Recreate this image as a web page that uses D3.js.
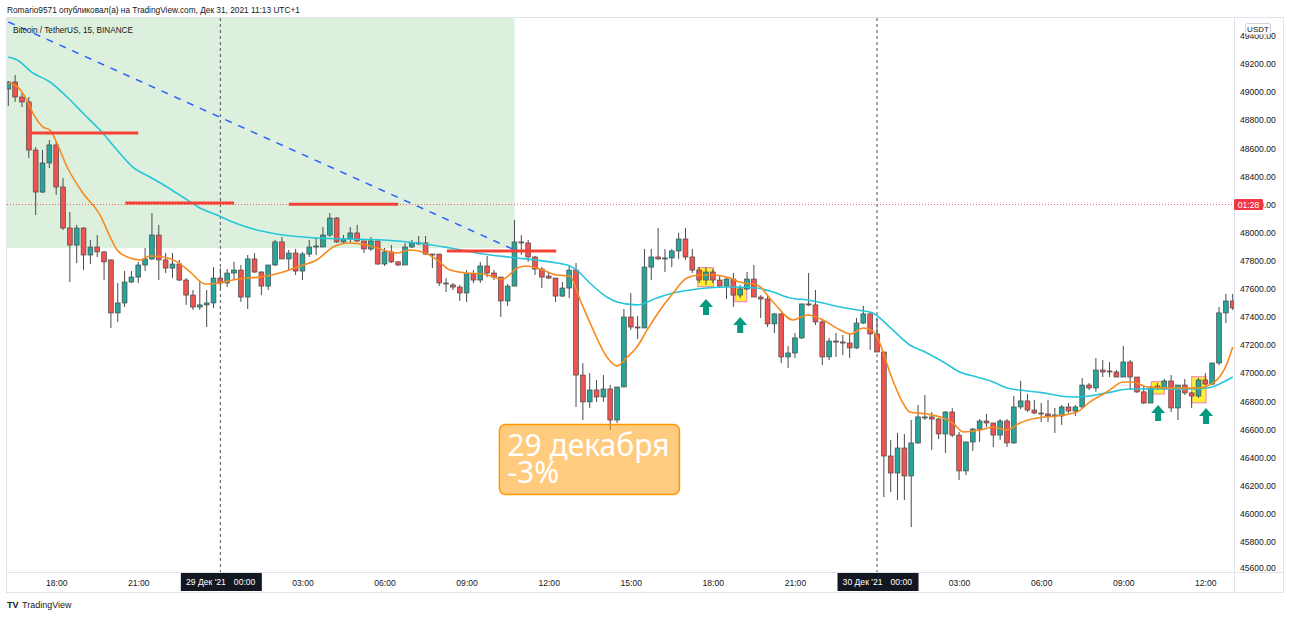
<!DOCTYPE html>
<html>
<head>
<meta charset="utf-8">
<script src="https://cdn.jsdelivr.net/npm/d3@7"></script>
<style>
  body { margin: 0; background: #fff; }
  svg { display: block; font-family: "Liberation Sans", Arial, sans-serif; }
</style>
</head>
<body>
<svg id="chart" width="1290" height="617"></svg>
<script>
// 15 minute bars, BTC/USDT, first bar 28 Dec 16:15
const startTime = Date.UTC(2021, 11, 28, 16, 15);
const barMs = 15 * 60 * 1000;

// [open, high, low, close]
const candles = [
  [49022,49079,48901,49072],[49072,49122,48930,48965],[48965,48994,48894,48930],[48930,48965,48531,48588],
  [48588,48610,48126,48289],[48289,48588,48282,48496],[48496,48659,48460,48624],[48624,48645,48268,48325],
  [48325,48389,48019,48033],[48033,48147,47649,47912],[47912,48055,47784,48033],[48033,48040,47734,47841],
  [47841,47948,47777,47898],[47898,47983,47827,47863],[47863,47870,47663,47792],[47806,47810,47322,47429],
  [47429,47642,47365,47500],[47500,47727,47471,47649],[47649,47727,47642,47684],[47684,47792,47642,47770],
  [47770,47891,47727,47813],[47813,48140,47806,47983],[47983,48055,47663,47806],[47806,47855,47713,47748],
  [47748,47855,47677,47777],[47777,47806,47656,47663],[47663,47677,47486,47556],[47556,47592,47450,47471],
  [47471,47649,47450,47486],[47486,47592,47329,47500],[47500,47755,47464,47677],[47677,47748,47606,47642],
  [47642,47741,47613,47713],[47713,47792,47663,47734],[47734,47770,47507,47542],[47542,47841,47457,47813],
  [47813,47855,47713,47720],[47720,47727,47556,47620],[47620,47770,47592,47770],[47770,47948,47763,47934],
  [47934,47969,47813,47813],[47813,47877,47727,47855],[47855,47884,47699,47727],[47727,47863,47663,47848],
  [47848,47948,47827,47898],[47898,47962,47841,47905],[47898,48040,47898,47983],[47983,48140,47969,48104],
  [48104,48111,47927,47934],[47934,47983,47927,47955],[47955,48040,47927,47998],[47998,48055,47934,47941],
  [47941,47941,47855,47884],[47884,47969,47870,47941],[47941,47941,47770,47777],[47777,47891,47763,47863],
  [47863,47912,47784,47792],[47792,47799,47763,47770],[47770,47927,47770,47898],[47898,47948,47891,47927],
  [47920,47976,47912,47927],[47927,47976,47841,47848],[47848,47848,47748,47841],[47848,47848,47620,47642],
  [47642,47677,47578,47635],[47628,47642,47592,47613],[47613,47628,47514,47571],[47571,47734,47507,47706],
  [47706,47734,47642,47663],[47663,47792,47642,47763],[47763,47834,47684,47713],[47713,47734,47663,47684],
  [47684,47684,47400,47514],[47514,47635,47479,47620],[47620,48090,47620,47934],[47934,47983,47841,47927],
  [47927,47948,47792,47827],[47827,47834,47699,47741],[47741,47755,47606,47684],[47691,47720,47670,47677],
  [47677,47677,47507,47549],[47549,47649,47542,47606],[47606,47770,47535,47734],[47734,47784,46760,46987],
  [46987,47072,46667,46796],[46796,47001,46753,46881],[46881,46952,46796,46831],[46831,46987,46796,46888],
  [46888,46916,46596,46667],[46667,46902,46646,46902],[46902,47457,46902,47400],[47400,47570,47308,47329],
  [47329,47407,47243,47322],[47322,47884,47322,47755],[47755,47884,47663,47827],[47827,48033,47806,47813],
  [47813,47884,47720,47820],[47820,47884,47755,47870],[47870,47998,47813,47955],[47955,48033,47806,47827],
  [47827,47884,47713,47734],[47734,47755,47642,47663],[47663,47755,47628,47720],[47720,47741,47642,47663],
  [47663,47691,47613,47620],[47620,47684,47528,47670],[47670,47713,47471,47556],[47556,47628,47535,47599],
  [47599,47720,47592,47670],[47670,47770,47542,47542],[47542,47556,47393,47528],[47528,47549,47329,47351],
  [47351,47429,47286,47422],[47422,47429,47073,47116],[47116,47194,47037,47144],[47144,47286,47108,47251],
  [47251,47493,47243,47493],[47493,47713,47478,47486],[47486,47592,47343,47365],[47365,47379,47058,47116],
  [47116,47251,47094,47229],[47229,47286,47116,47222],[47222,47272,47130,47215],[47215,47286,47108,47180],
  [47180,47393,47172,47357],[47357,47479,47350,47422],[47422,47436,47165,47279],[47279,47393,47151,47151],
  [47151,47151,46119,46411],[46411,46525,46155,46290],[46290,46575,46098,46468],[46468,46567,46098,46269],
  [46269,46667,45906,46504],[46504,46774,46497,46689],[46682,46845,46667,46689],[46689,46724,46454,46674],
  [46674,46682,46532,46568],[46568,46731,46433,46724],[46724,46752,46546,46560],[46560,46582,46240,46305],
  [46305,46511,46276,46511],[46511,46610,46447,46603],[46603,46674,46511,46660],[46660,46710,46617,46646],
  [46646,46646,46475,46560],[46560,46674,46525,46660],[46660,46674,46475,46504],[46504,46838,46497,46760],
  [46760,46945,46745,46803],[46803,46852,46724,46738],[46738,46810,46710,46717],[46717,46789,46653,46710],
  [46710,46810,46653,46696],[46696,46753,46575,46703],[46696,46774,46632,46760],[46760,46788,46717,46731],
  [46731,46774,46696,46760],[46760,46966,46753,46916],[46916,46930,46881,46895],[46895,47108,46867,47023],
  [47023,47094,46973,47009],[47016,47080,46973,47009],[47009,47023,46973,46973],[46973,47194,46973,47080],
  [47080,47094,46881,46973],[46973,46973,46860,46867],[46867,46909,46781,46788],[46788,46909,46788,46895],
  [46909,46930,46881,46895],[46895,46959,46881,46945],[46945,46987,46724,46753],[46753,46916,46667,46916],
  [46916,46959,46845,46860],[46860,46867,46753,46838],[46838,46966,46824,46952],[46952,47001,46916,46923],
  [46923,47073,46916,47073],[47073,47471,47058,47429],[47429,47564,47357,47514],[47514,47564,47450,47464]
];

// moving averages: [bar, price]
const fastMa = [[0,49065],[1.4,49036],[2.7,48944],[3.6,48851],[5.1,48751],[6.1,48730],[7.1,48638],[8.6,48467],
  [10.9,48282],[13.4,48126],[14.9,47969],[15.9,47877],[17.4,47827],[19.3,47806],[20.7,47834],[22.6,47827],
  [24.7,47792],[26.6,47720],[28.8,47635],[30.9,47642],[32.8,47663],[34.9,47677],[36.8,47684],[40.2,47720],
  [42.6,47763],[45.1,47806],[47.5,47898],[49.9,47927],[52.4,47912],[54.8,47877],[56.8,47855],[58.7,47877],
  [60.6,47863],[62.7,47806],[64.6,47734],[67.1,47713],[69.4,47706],[72.3,47670],[74.4,47748],[75.8,47763],
  [77.7,47741],[80.2,47699],[82.1,47691],[83.6,47521],[85.5,47308],[87.5,47116],[89,47052],[90.5,47116],
  [91.9,47186],[93.4,47308],[95.3,47450],[97.2,47571],[99.2,47677],[101.1,47699],[103,47699],[105.5,47677],
  [106.9,47649],[109.5,47628],[111.8,47507],[114.7,47379],[116.8,47414],[119.1,47379],[121.6,47308],
  [123.1,47279],[125,47322],[126.4,47300],[127.4,47215],[128.9,47002],[130.8,46788],[131.8,46724],
  [134.3,46710],[136.7,46681],[138.1,46646],[139.6,46582],[142.1,46596],[144,46617],[146,46596],
  [147.9,46646],[150.4,46681],[153.3,46696],[156.2,46724],[158.1,46795],[160.6,46866],[163,46938],
  [164.4,46938],[166.5,46902],[170.3,46895],[173.8,46895],[176.1,46930],[178.2,47072],[179,47186]];

const slowMa = [[0,49250],[1.3,49229],[3.6,49136],[6.1,49072],[8.6,48965],[10.9,48851],[13.4,48730],
  [15.9,48588],[18.2,48467],[20.7,48396],[23.2,48325],[25.5,48254],[28,48176],[30.5,48126],[32.8,48076],
  [35.3,48033],[40.2,47983],[45.1,47962],[49.9,47955],[54.8,47948],[59.8,47927],[64.6,47891],[69.4,47848],
  [74.4,47820],[79.2,47792],[82.1,47763],[83.1,47734],[85,47642],[87.5,47542],[89,47507],[91.9,47486],
  [94.8,47535],[97.2,47571],[99.7,47592],[102.1,47606],[105.5,47613],[109.5,47606],[111.8,47578],
  [114.3,47535],[116.8,47521],[119.1,47500],[121.6,47471],[124.1,47450],[126.4,47429],[127.4,47393],
  [129.3,47308],[131.8,47201],[134.3,47144],[136.7,47080],[139.1,47009],[141.6,46973],[144,46938],
  [146,46895],[148.9,46874],[151.3,46860],[153.8,46838],[155.7,46831],[158.1,46838],[160.6,46860],
  [164,46888],[167.9,46888],[172.8,46888],[175.3,46895],[176.7,46916],[179,46973]];

// drawings
const zone = [-1, 74, 47891, 49600];                 // green box: fromBar, toBar, low, high
const trend = [[0, 49500], [74, 47877]];             // blue dashed trend line
const levels = [[3.2, 19, 48709], [17.1, 33, 48211], [41, 57, 48202], [64.1, 80.1, 47870]];
const highlights = [[100.8, 103.1, 47751, 47616], [106.2, 107.95, 47606, 47509],
                    [167.1, 169, 46940, 46852], [173, 175.1, 46975, 46790]];
const arrows = [[102, 47528], [107, 47400], [168.1, 46774], [175.1, 46753]];
const priceLine = 48200;
const countdown = '01:28';
const note = { bar: 71.8, price: 46635, lines: ['29 декабря', '-3%'] };

const priceTicks = d3.range(45600, 49401, 200);
const timeTicks = ['2021-12-28T18:00','2021-12-28T21:00','2021-12-29T00:00','2021-12-29T03:00',
  '2021-12-29T06:00','2021-12-29T09:00','2021-12-29T12:00','2021-12-29T15:00','2021-12-29T18:00',
  '2021-12-29T21:00','2021-12-30T00:00','2021-12-30T03:00','2021-12-30T06:00','2021-12-30T09:00',
  '2021-12-30T12:00'];
const monthLabel = 'Дек';

const barTime = i => new Date(startTime + i * barMs);
const parseT = d3.utcParse('%Y-%m-%dT%H:%M');

const plot = { left: 7, top: 18, right: 1234, bottom: 572 };
const svg = d3.select('#chart');

const x = d3.scaleUtc()
  .domain([barTime(0), barTime(candles.length - 1)])
  .range([8.3, 1232.7]);
const xb = i => x(barTime(i));
const y = d3.scaleLinear().domain([45600, 49200]).range([570, 64]);

svg.append('rect').attr('width', 1290).attr('height', 617).attr('fill', '#fff');

svg.append('defs').append('clipPath').attr('id', 'plotClip')
  .append('rect')
  .attr('x', plot.left).attr('y', plot.top)
  .attr('width', plot.right - plot.left).attr('height', plot.bottom - plot.top);

const g = svg.append('g').attr('clip-path', 'url(#plotClip)');

// green zone
g.append('rect')
  .attr('x', xb(zone[0])).attr('y', y(zone[3]))
  .attr('width', xb(zone[1]) - xb(zone[0]))
  .attr('height', y(zone[2]) - y(zone[3]))
  .attr('fill', 'rgba(76,175,80,0.19)');

// yellow highlight boxes
g.selectAll('.hl').data(highlights).join('rect')
  .attr('class', 'hl')
  .attr('x', d => xb(d[0])).attr('y', d => y(d[2]))
  .attr('width', d => xb(d[1]) - xb(d[0]))
  .attr('height', d => y(d[3]) - y(d[2]))
  .attr('fill', '#fff033')
  .attr('stroke', '#f48fb1').attr('stroke-width', 1.2);

// day separators
timeTicks.map(parseT).filter(t => t.getUTCHours() === 0).forEach(t => {
  g.append('line')
    .attr('x1', x(t)).attr('x2', x(t))
    .attr('y1', plot.top).attr('y2', plot.bottom)
    .attr('stroke', '#50535e').attr('stroke-width', 1)
    .attr('stroke-dasharray', '3,3');
});

// candles
const bars = g.selectAll('.candle').data(candles).join('g').attr('class', 'candle');
bars.append('line')
  .attr('x1', (d, i) => xb(i)).attr('x2', (d, i) => xb(i))
  .attr('y1', d => y(d[1])).attr('y2', d => y(d[2]))
  .attr('stroke', '#4a4a4a').attr('stroke-width', 1);
bars.append('rect')
  .attr('x', (d, i) => xb(i) - 2.4)
  .attr('width', 4.8)
  .attr('y', d => y(Math.max(d[0], d[3])))
  .attr('height', d => Math.max(1, Math.abs(y(d[0]) - y(d[3]))))
  .attr('fill', d => d[3] >= d[0] ? '#26a69a' : '#ef5350')
  .attr('stroke', '#4a4a4a').attr('stroke-width', 0.7);

// moving averages
const maLine = d3.line().x(d => xb(d[0])).y(d => y(d[1])).curve(d3.curveMonotoneX);
g.append('path').attr('d', maLine(slowMa))
  .attr('fill', 'none').attr('stroke', '#26c6da').attr('stroke-width', 1.6);
g.append('path').attr('d', maLine(fastMa))
  .attr('fill', 'none').attr('stroke', '#f68a1e').attr('stroke-width', 1.6);

// price line
g.append('line')
  .attr('x1', plot.left).attr('x2', plot.right)
  .attr('y1', y(priceLine)).attr('y2', y(priceLine))
  .attr('stroke', '#f23645').attr('stroke-width', 1)
  .attr('stroke-dasharray', '1,2').attr('opacity', 0.8);

// trend line
g.append('line')
  .attr('x1', xb(trend[0][0])).attr('y1', y(trend[0][1]))
  .attr('x2', xb(trend[1][0])).attr('y2', y(trend[1][1]))
  .attr('stroke', '#2962ff').attr('stroke-width', 1.5)
  .attr('stroke-dasharray', '7,7');

// red levels
g.selectAll('.lvl').data(levels).join('line')
  .attr('class', 'lvl')
  .attr('x1', d => xb(d[0])).attr('x2', d => xb(d[1]))
  .attr('y1', d => y(d[2])).attr('y2', d => y(d[2]))
  .attr('stroke', '#f44336').attr('stroke-width', 3);

// arrows
g.selectAll('.arrow').data(arrows).join('path')
  .attr('class', 'arrow')
  .attr('transform', d => `translate(${xb(d[0])},${y(d[1])})`)
  .attr('d', 'M0,0 L7,8 L3,8 L3,16 L-3,16 L-3,8 L-7,8 Z')
  .attr('fill', '#089981');

// note box
const nx = xb(note.bar), ny = y(note.price);
g.append('rect')
  .attr('x', nx).attr('y', ny).attr('width', 180).attr('height', 70).attr('rx', 6)
  .attr('fill', 'rgba(255,152,0,0.5)')
  .attr('stroke', '#ff9800').attr('stroke-width', 1.5);
g.append('text')
  .attr('x', nx + 8).attr('y', ny + 31)
  .attr('fill', '#fff')
  .attr('font-family', '"Noto Sans", sans-serif')
  .attr('font-size', 30)
  .selectAll('tspan').data(note.lines).join('tspan')
  .attr('x', nx + 8).attr('dy', (d, i) => i ? 27 : 0)
  .text(d => d);

// frame
const frame = svg.append('g').attr('stroke', '#e0e3eb').attr('fill', 'none');
frame.append('rect').attr('x', 6.5).attr('y', 17.5).attr('width', 1277).attr('height', 575);
frame.append('line').attr('x1', 1234.5).attr('x2', 1234.5).attr('y1', 17.5).attr('y2', 592.5);
frame.append('line').attr('x1', 6.5).attr('x2', 1283.5).attr('y1', 572.5).attr('y2', 572.5);

// price axis
const yAxis = svg.append('g')
  .attr('transform', `translate(${plot.right}, 0)`)
  .call(d3.axisRight(y).tickValues(priceTicks).tickFormat(d => d.toFixed(2)).tickSize(0).tickPadding(6));
yAxis.select('.domain').remove();
yAxis.selectAll('text')
  .attr('fill', '#131722')
  .attr('font-size', 8.6)
  .attr('font-family', '"Liberation Sans", Arial, sans-serif');
yAxis.selectAll('.tick').filter(d => d === 45600).select('text').attr('dy', '0.05em');

// countdown label
svg.append('rect')
  .attr('x', plot.right).attr('y', y(priceLine) - 5.5).attr('width', 29).attr('height', 11)
  .attr('rx', 1.5).attr('fill', '#f23645');
svg.append('text')
  .attr('x', plot.right + 14.5).attr('y', y(priceLine) + 3)
  .attr('text-anchor', 'middle').attr('fill', '#fff').attr('font-size', 8.6)
  .text(countdown);

// currency label
svg.append('rect')
  .attr('x', 1245.5).attr('y', 23.5).attr('width', 25).attr('height', 11).attr('rx', 2)
  .attr('fill', '#fff').attr('stroke', '#d1d4dc');
svg.append('text')
  .attr('x', 1258).attr('y', 32).attr('text-anchor', 'middle')
  .attr('fill', '#131722').attr('font-size', 8).text('USDT');

// time axis
const xAxis = svg.append('g')
  .attr('transform', `translate(0, ${plot.bottom})`)
  .call(d3.axisBottom(x).tickValues(timeTicks.map(parseT))
    .tickFormat(d => d3.utcFormat('%H:%M')(d)).tickSize(0).tickPadding(8));
xAxis.select('.domain').remove();
xAxis.selectAll('text')
  .attr('fill', '#131722').attr('font-size', 8.6)
  .attr('font-family', '"Liberation Sans", Arial, sans-serif');

const dayTicks = xAxis.selectAll('.tick').filter(d => d.getUTCHours() === 0);
dayTicks.select('text').remove();
dayTicks.append('rect')
  .attr('x', -40).attr('y', 1).attr('width', 81).attr('height', 18)
  .attr('fill', '#131722');
dayTicks.append('text')
  .attr('x', 5).attr('y', 13).attr('text-anchor', 'end')
  .attr('fill', '#fff').attr('font-size', 8.6)
  .text(d => `${d.getUTCDate()} ${monthLabel} '${d3.utcFormat('%y')(d)}`);
dayTicks.append('text')
  .attr('x', 13).attr('y', 13).attr('text-anchor', 'start')
  .attr('fill', '#fff').attr('font-size', 8.6)
  .text(d => d3.utcFormat('%H:%M')(d));

// header and title
svg.append('text')
  .attr('x', 7).attr('y', 13)
  .attr('fill', '#131722').attr('font-size', 8.3)
  .text('Romario9571 опубликовал(а) на TradingView.com, Дек 31, 2021 11:13 UTC+1');
svg.append('text')
  .attr('x', 13).attr('y', 32.5)
  .attr('fill', '#131722').attr('font-size', 8.2)
  .text('Bitcoin / TetherUS, 15, BINANCE');

// footer logo
svg.append('text')
  .attr('x', 7).attr('y', 608)
  .attr('fill', '#131722').attr('font-size', 9).attr('font-weight', 'bold')
  .text('TV');
svg.append('text')
  .attr('x', 22).attr('y', 608)
  .attr('fill', '#131722').attr('font-size', 9)
  .text('TradingView');
</script>
</body>
</html>
